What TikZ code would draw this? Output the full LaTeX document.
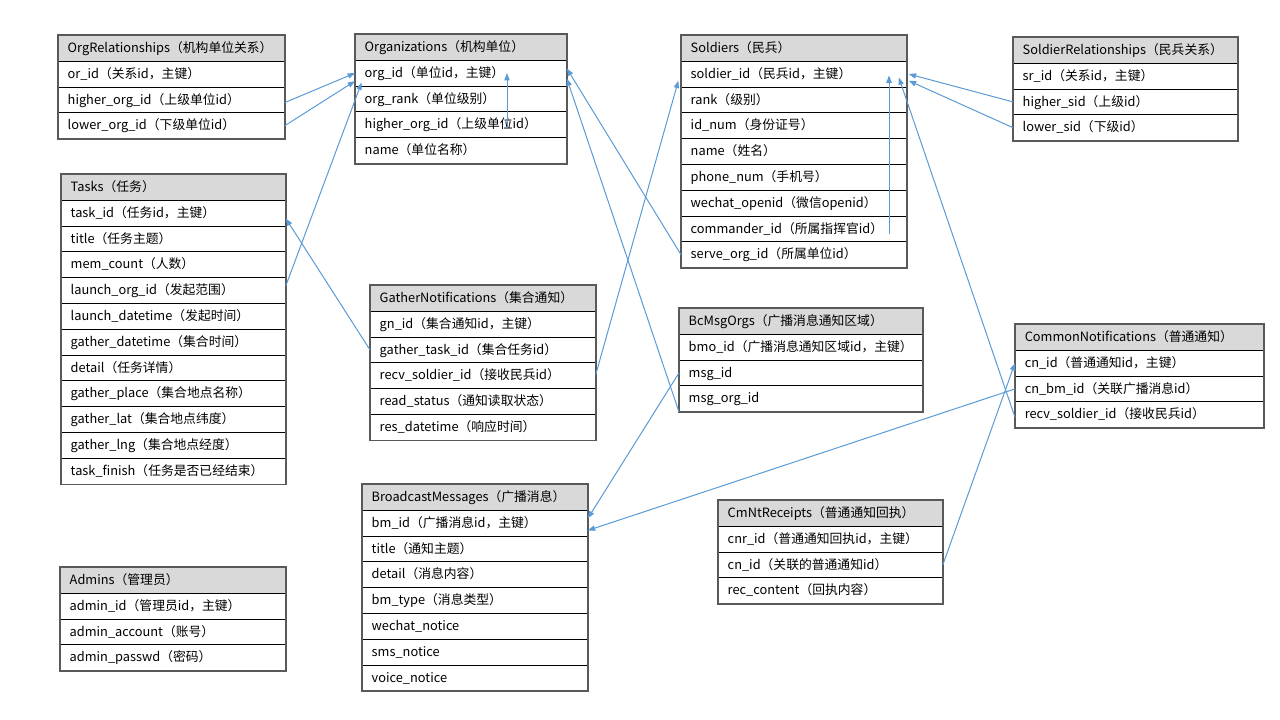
\documentclass[tikz,border=0pt]{standalone}
\usepackage{fontspec}
\setmainfont{Noto Sans CJK SC}
\usetikzlibrary{arrows.meta}

\definecolor{fkblue}{HTML}{5B9BD5}
\definecolor{headgray}{HTML}{D9D9D9}
\definecolor{framegray}{HTML}{595959}

\tikzset{
  ercell/.style={draw=black, line width=0.6pt, anchor=north west,
    inner xsep=7pt, inner ysep=0pt, minimum height=19.35pt,
    text height=8.8pt, text depth=2.6pt, align=left,
    font=\fontsize{9.6pt}{11.5pt}\selectfont, text=black},
  erhead/.style={ercell, fill=headgray},
  tblframe/.style={draw=framegray, line width=1.2pt},
  fk/.style={draw=fkblue, line width=0.75pt, -{Triangle[length=5.5pt,width=4pt]}},
}

% #1 name, #2 left, #3 top, #4 width (px), #5 index of last row, #6 header and rows
\newcommand\ertable[6]{%
  \foreach \t [count=\i from 0] in {#6} {
    \ifnum\i=0 \tikzset{ercur/.style={erhead}}\else\tikzset{ercur/.style={ercell}}\fi
    \node[ercur, minimum width={#4*0.75pt}, text width={#4*0.75pt-14pt}]
      (#1-\i) at (#2,{#3+\i*25.8}) {\t};
  }
  \draw[tblframe] (#1-0.north west) rectangle (#1-#5.south east);
}

\begin{document}
\begin{tikzpicture}[x=0.75pt, y=-0.75pt]
\useasboundingbox[fill=white] (0,0) rectangle (1280,720);

\ertable{orel}{58}{35}{226}{3}{OrgRelationships（机构单位关系）,
  or\_id（关系id，主键）, higher\_org\_id（上级单位id）, lower\_org\_id（下级单位id）}

\ertable{org}{355}{34}{211}{4}{Organizations（机构单位）,
  org\_id（单位id，主键）, org\_rank（单位级别）, higher\_org\_id（上级单位id）, name（单位名称）}

\ertable{sold}{681}{35}{225}{8}{Soldiers（民兵）,
  soldier\_id（民兵id，主键）, rank（级别）, id\_num（身份证号）, name（姓名）,
  phone\_num（手机号）, wechat\_openid（微信openid）, commander\_id（所属指挥官id）,
  serve\_org\_id（所属单位id）}

\ertable{srel}{1013}{37}{224}{3}{SoldierRelationships（民兵关系）,
  sr\_id（关系id，主键）, higher\_sid（上级id）, lower\_sid（下级id）}

\ertable{task}{61}{174}{224}{11}{Tasks（任务）,
  task\_id（任务id，主键）, title（任务主题）, mem\_count（人数）, launch\_org\_id（发起范围）,
  launch\_datetime（发起时间）, gather\_datetime（集合时间）, detail（任务详情）,
  gather\_place（集合地点名称）, gather\_lat（集合地点纬度）, gather\_lng（集合地点经度）,
  task\_finish（任务是否已经结束）}

\ertable{gn}{370}{285}{225}{5}{GatherNotifications（集合通知）,
  gn\_id（集合通知id，主键）, gather\_task\_id（集合任务id）, recv\_soldier\_id（接收民兵id）,
  read\_status（通知读取状态）, res\_datetime（响应时间）}

\ertable{bmo}{679}{308}{243}{3}{BcMsgOrgs（广播消息通知区域）,
  bmo\_id（广播消息通知区域id，主键）, msg\_id, msg\_org\_id}

\ertable{cn}{1015}{324}{248}{3}{CommonNotifications（普通通知）,
  cn\_id（普通通知id，主键）, cn\_bm\_id（关联广播消息id）, recv\_soldier\_id（接收民兵id）}

\ertable{bm}{362}{484}{225}{7}{BroadcastMessages（广播消息）,
  bm\_id（广播消息id，主键）, title（通知主题）, detail（消息内容）, bm\_type（消息类型）,
  wechat\_notice, sms\_notice, voice\_notice}

\ertable{cnr}{718}{500}{224}{3}{CmNtReceipts（普通通知回执）,
  cnr\_id（普通通知回执id，主键）, cn\_id（关联的普通通知id）, rec\_content（回执内容）}

\ertable{adm}{60}{567}{225}{3}{Admins（管理员）,
  admin\_id（管理员id，主键）, admin\_account（账号）, admin\_passwd（密码）}

% foreign keys
\draw[fk] ([yshift=-2pt]orel-2.east) -- (org-1.west);
\draw[fk] (orel-3.east) -- ([yshift=-6pt]org-1.west);
\draw[fk] ([yshift=3.5pt]task-4.east) -- ([shift={(5pt,-7pt)}]org-1.west);
\draw[fk] ([shift={(114pt,-2pt)}]org-3.west) -- ([xshift=114pt]org-1.west);
\draw[fk] (sold-8.west) -- ([yshift=3.5pt]org-1.east);
\draw[fk] (bmo-3.south west) -- ([yshift=-4pt]org-1.east);
\draw[fk] ([yshift=1pt]gn-3.east) -- ([shift={(-2pt,-5pt)}]sold-1.west);
\draw[fk] (gn-2.west) -- ([yshift=-4pt]task-1.east);
\draw[fk] ([shift={(156pt,-4pt)}]sold-7.west) -- ([shift={(156pt,-1pt)}]sold-1.west);
\draw[fk] (srel-2.west) -- ([xshift=1.5pt]sold-1.east);
\draw[fk] (srel-3.west) -- ([shift={(1.5pt,-5pt)}]sold-1.east);
\draw[fk] ([yshift=-2pt]cn-3.west) -- ([shift={(-6pt,-2.5pt)}]sold-1.east);
\draw[fk] (cnr-2.east) -- (cn-1.west);
\draw[fk] (cn-2.west) -- ([yshift=-5.5pt]bm-1.east);
\draw[fk] (bmo-2.west) -- ([yshift=3.5pt]bm-1.east);
\end{tikzpicture}
\end{document}
